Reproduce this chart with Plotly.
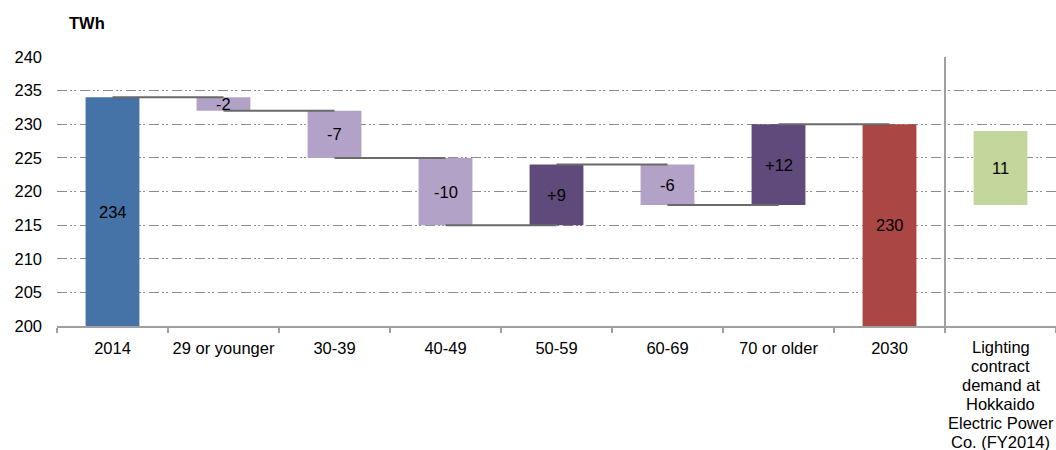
import plotly.graph_objects as go

# Electricity demand bridge, 2014 -> 2030, by age group of household head (TWh)
categories = ["2014", "29 or younger", "30-39", "40-49", "50-59", "60-69",
              "70 or older", "2030", "Lighting"]
tick_labels = ["2014", "29 or younger", "30-39", "40-49", "50-59", "60-69",
               "70 or older", "2030", ""]
start_total = 234
age_changes = [-2, -7, -10, 9, -6, 12]
end_total = 230
lighting_value = 11
lighting_base = 218
lighting_label_lines = ["Lighting", "contract", "demand at", "Hokkaido",
                        "Electric Power", "Co. (FY2014)"]

FONT = "Liberation Sans, Arial, sans-serif"
FS = 16.5
C_START = "#4572A7"
C_DOWN = "#B3A2C7"
C_UP = "#604A7B"
C_END = "#AA4643"
C_LIGHT = "#C3D69B"
Y_MIN = 200

# running levels for the floating bars
bases, heights, colors, texts = [], [], [], []
bases.append(Y_MIN); heights.append(start_total - Y_MIN); colors.append(C_START)
texts.append(f"{start_total}")
level = start_total
levels = [level]
for ch in age_changes:
    new_level = level + ch
    bases.append(min(level, new_level))
    heights.append(abs(ch))
    colors.append(C_UP if ch > 0 else C_DOWN)
    texts.append(f"{ch:+d}")
    level = new_level
    levels.append(level)
bases.append(Y_MIN); heights.append(end_total - Y_MIN); colors.append(C_END)
texts.append(f"{end_total}")
bases.append(lighting_base); heights.append(lighting_value); colors.append(C_LIGHT)
texts.append(f"{lighting_value}")

fig = go.Figure()
fig.add_trace(go.Bar(
    x=categories, y=heights, base=bases, width=0.485,
    marker=dict(color=colors, line=dict(width=0)),
    hoverinfo="skip", showlegend=False,
))

shapes = []
# connectors between consecutive bars (centre to centre)
for i, lv in enumerate(levels):
    shapes.append(dict(type="line", xref="x", yref="y", x0=i, x1=i + 1,
                       y0=lv, y1=lv, layer="above",
                       line=dict(color="#6a6a6a", width=2)))
# separator before the reference bar
shapes.append(dict(type="line", xref="x", yref="paper", x0=7.5, x1=7.5,
                   y0=-4 / 269, y1=1, layer="above",
                   line=dict(color="#a0a0a0", width=2)))

annotations = []
for i, (b, h, t) in enumerate(zip(bases, heights, texts)):
    annotations.append(dict(x=i, y=b + h / 2, xref="x", yref="y", text=t,
                            showarrow=False, font=dict(family=FONT, size=FS, color="#000")))
annotations.append(dict(x=0, y=1, xref="paper", yref="paper", text="<b>TWh</b>",
                        xanchor="left", yanchor="middle", xshift=10, yshift=34,
                        showarrow=False, font=dict(family=FONT, size=FS, color="#000")))
for k, line in enumerate(lighting_label_lines):
    annotations.append(dict(x=8, y=0, xref="x", yref="paper", text=line,
                            xanchor="center", yanchor="middle", yshift=-21 - 19 * k,
                            showarrow=False, font=dict(family=FONT, size=FS, color="#000")))

fig.update_layout(
    width=1056, height=450,
    margin=dict(l=57, r=0, t=57, b=124),
    paper_bgcolor="white", plot_bgcolor="white",
    bargap=0.5,
    shapes=shapes, annotations=annotations,
    xaxis=dict(type="category", categoryorder="array", categoryarray=categories,
               tickvals=categories, ticktext=tick_labels, tickangle=0,
               tickson="boundaries", ticks="outside", ticklen=5, tickcolor="#a0a0a0",
               tickwidth=1.5, showgrid=False, showline=True, linecolor="#a0a0a0",
               linewidth=1.5, range=[-0.5, 8.5], ticklabelstandoff=6,
               tickfont=dict(family=FONT, size=FS, color="#000")),
    yaxis=dict(range=[Y_MIN, 240], dtick=5, tick0=200, showgrid=True,
               gridcolor="#8c8c8c", griddash="10px,3px,2px,2px,2px,4px", gridwidth=1,
               zeroline=False, showline=False, ticks="",
               ticklabelstandoff=14,
               tickfont=dict(family=FONT, size=FS, color="#000")),
)

fig.write_html("out.html")
